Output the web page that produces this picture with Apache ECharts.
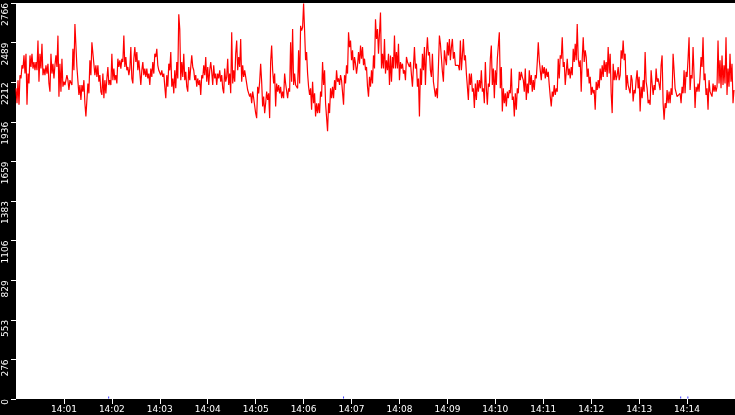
<!DOCTYPE html>
<html>
<head>
<meta charset="utf-8">
<script src="https://cdn.jsdelivr.net/npm/echarts@6/dist/echarts.min.js"></script>
<style>
html,body{margin:0;padding:0;background:#000;}
#chart{width:735px;height:415px;}
</style>
</head>
<body>
<div id="chart"></div>
<script>
// Sample spacing (seconds) and axis setup
var startLabel = '14:';
var stepSeconds = 1.25;
var xTickMinutes = [1,2,3,4,5,6,7,8,9,10,11,12,13,14];
var yMax = 2766;
var yInterval = 276.6;

// Series values, 14:00:00 - 14:02:36
var seg1 = [2170,2066,2227,2055,2262,2239,2331,2308,2400,2273,2412,2055,2273,2204,2400,2319,2412,2308,2354,2296,
2354,2296,2504,2216,2412,2308,2481,2262,2308,2262,2331,2273,2342,2204,2147,2412,2273,2342,2239,2331,
2400,2319,2538,2112,2342,2147,2377,2181,2216,2193,2227,2262,2227,2158,2227,2216,2193,2446,2296,2619,
2607,2319,2331,2124,2193,2089,2193,2147,2227,2066,1974,1962,2204,2135,2366,2262,2492,2492,2504,2262,
2331,2250,2331,2216,2262,2147,2124,2273,2101,2227,2135,2239,2319,2193,2227,2193,2412,2227,2308,2227,
2262,2204,2377,2319,2366,2308,2377,2354,2538,2319,2389,2296,2319,2262,2308,2458,2239,2204,2377,2458,
2354,2423,2296,2366,2354];
// 14:02:36 - 14:05:06
var seg2 = [2193,2296,2354,2262,2308,2250,2308,2239,2273,2193,2308,2250,2354,2273,2412,2389,2446,2331,2296,2308,
2262,2296,2250,2273,2181,2101,2262,2181,2342,2296,2423,2181,2239,2135,2296,2170,2354,2239,2688,2584,
2227,2354,2250,2412,2227,2285,2181,2147,2319,2227,2319,2400,2319,2296,2227,2262,2181,2239,2193,2227,
2124,2262,2239,2331,2262,2389,2216,2319,2193,2296,2354,2285,2193,2331,2239,2273,2193,2273,2239,2296,
2216,2262,2170,2135,2308,2216,2250,2377,2193,2273,2135,2561,2204,2296,2216,2412,2504,2296,2389,2319,
2515,2216,2331,2250,2296,2250,2262,2158,2170,2112,2135,2066,2147,2101,2089,1997,1962,2181,2135,2216];
// 14:05:06 - 14:07:36
var seg3 = [2342,2216,2043,2112,1997,2066,2147,2089,2135,1962,2354,2469,2296,2204,2273,2043,2204,2147,2193,2135,
2181,2101,2147,2101,2273,2204,2216,2101,2170,2147,2492,2216,2584,2193,2273,2193,2204,2170,2435,2204,
2607,2573,2596,2762,2573,2366,2423,2273,2181,2124,2170,2020,2216,2066,2135,1974,2066,1997,2066,1997,
2147,2112,2354,2193,2296,2066,2078,1870,2066,1997,2170,2101,2181,2101,2227,2158,2296,2216,2239,2193,
2262,2227,2239,2055,2262,2204,2331,2273,2561,2458,2504,2366,2435,2296,2389,2342,2273,2331,2423,2342,
2469,2377,2458,2331,2377,2296,2319,2181,2112,2250,2181,2296,2204,2400,2308,2653,2515,2584,2412,2423];
// 14:07:36 - 14:10:06
var seg4 = [2699,2308,2412,2308,2515,2273,2366,2296,2412,2193,2400,2216,2389,2308,2538,2308,2423,2308,2481,2227,
2354,2308,2342,2273,2296,2227,2389,2354,2366,2319,2354,2262,2181,2170,2458,2308,2342,2181,2239,1974,
2308,2193,2412,2296,2458,2193,2412,2527,2400,2423,2296,2250,2412,2216,2227,2112,2170,2101,2089,2538,
2481,2492,2285,2216,2435,2377,2331,2492,2400,2515,2366,2458,2515,2377,2423,2331,2342,2319,2331,2296,
2504,2296,2400,2515,2366,2400,2273,2181,2089,2273,2193,2273,2147,2170,2032,2204,2089,2227,2147,2227,
2170,2296,2147,2170,2066,2354,2170,2055,2204,2181,2377,2469,2193,2308,2101,2296,2193,2377,2366,2561];
// 14:10:06 - 14:12:36
var seg5 = [2170,2319,2009,2170,2066,2135,2043,2147,2101,2158,2135,2308,2089,2112,1974,2135,2020,2170,2135,2285,
2227,2285,2250,2227,2147,2308,2089,2204,2135,2296,2193,2262,2147,2227,2158,2262,2239,2354,2492,2366,
2377,2227,2331,2273,2319,2239,2308,2250,2285,2193,2112,2043,2147,2112,2193,2124,2170,2147,2377,2239,
2400,2377,2527,2319,2354,2193,2204,2377,2262,2308,2239,2319,2262,2446,2354,2481,2366,2619,2377,2319,
2366,2147,2377,2527,2354,2435,2389,2250,2308,2204,2250,2124,2181,2135,2158,2020,2216,2158,2227,2170,
2308,2227,2331,2250,2366,2285,2354,2250,2458,2273,2412,2135,1997,2342,2227,2296,2227,2262,2319,2227];
// 14:12:36 - 14:15:00
var seg6 = [2262,2435,2377,2504,2366,2412,2158,2262,2193,2204,2135,2262,2227,2078,2158,2135,2227,2296,2170,2250,
2009,2181,2101,2227,2147,2423,2216,2170,2066,2089,2055,2296,2204,2124,2193,2158,2308,2216,2239,2227,
2158,2331,2400,2066,1951,2066,2032,2158,2066,2147,2066,2170,2124,2412,2296,2170,2158,2112,2124,2101,
2135,2066,2181,2135,2296,2135,2285,2250,2377,2527,2158,2262,2239,2458,2262,2032,2181,2147,2204,2147,
2250,2389,2319,2527,2227,2273,2124,2170,2020,2227,2147,2158,2112,2204,2147,2193,2147,2181,2504,2204,
2366,2170,2400,2193,2331,2204,2527,2124,2308,2181,2412,2216,2342,2066,2158];

// Small blue event marks near the baseline (seconds after 14:00:00)
var eventSeconds = [116, 410, 832, 841];
var eventValue = 10;

var values = seg1.concat(seg2, seg3, seg4, seg5, seg6);
var lineData = values.map(function (v, i) { return [i * stepSeconds, v]; });
var eventData = eventSeconds.map(function (t) { return [t, eventValue]; });

function pad(n){ n = Math.round(n); return (n < 10 ? '0' : '') + n; }

var chart = echarts.init(document.getElementById('chart'), null, {renderer: 'canvas'});
chart.setOption({
  backgroundColor: '#000',
  animation: false,
  grid: {left: 16, right: 0, top: 0, bottom: 16, show: true, backgroundColor: '#ffffff', borderWidth: 0},
  xAxis: {
    type: 'value', min: 0, max: 900, interval: 60,
    axisLine: {show: false},
    axisTick: {show: true, length: 5, lineStyle: {color: '#ffffff', width: 1}},
    splitLine: {show: false},
    axisLabel: {
      color: '#ffffff', fontFamily: 'DejaVu Sans', fontSize: 9, margin: 6,
      showMinLabel: false, showMaxLabel: false,
      formatter: function (v) {
        var m = Math.round(v / 60);
        return xTickMinutes.indexOf(m) >= 0 ? startLabel + pad(m) : '';
      }
    }
  },
  yAxis: {
    type: 'value', min: 0, max: yMax, interval: yInterval,
    axisLine: {show: false},
    axisTick: {show: true, length: 5, lineStyle: {color: '#ffffff', width: 1}},
    splitLine: {show: false},
    axisLabel: {
      rotate: 90, color: '#ffffff', fontFamily: 'DejaVu Sans', fontSize: 9, margin: 10,
      align: 'right', verticalAlign: 'middle',
      formatter: function (v) { return String(Math.floor(v + 1e-6)); }
    }
  },
  series: [
    {
      type: 'line', data: lineData, showSymbol: false, symbol: 'none',
      lineStyle: {color: '#ff0000', width: 1.2}, itemStyle: {color: '#ff0000'},
      silent: true
    },
    {
      type: 'scatter', data: eventData, symbol: 'rect', symbolSize: [1, 2],
      itemStyle: {color: '#0000ff'}, silent: true
    }
  ]
});
</script>
</body>
</html>
